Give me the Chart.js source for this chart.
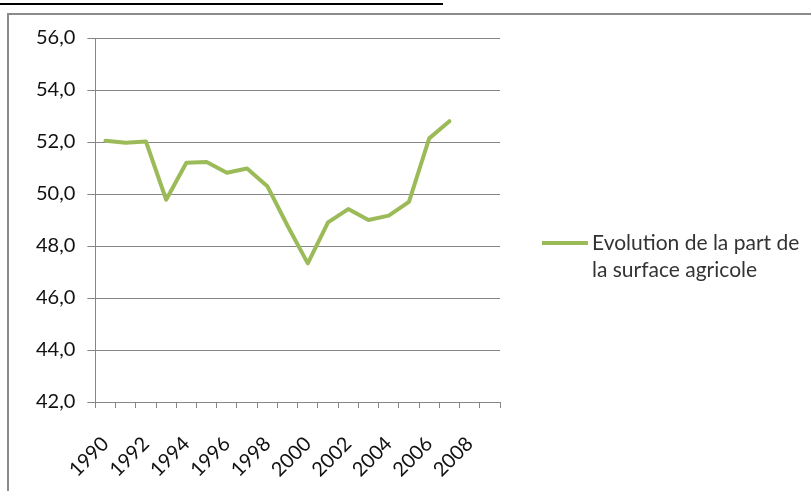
<!DOCTYPE html>
<html>
<head>
<meta charset="utf-8">
<script src="https://cdn.jsdelivr.net/npm/chart.js@4"></script>
<style>
    body { margin: 0; background: #fff; overflow: hidden; }
    #wrap { position: relative; width: 811px; height: 491px; }
    #topline { position: absolute; left: 0; top: 3px; width: 443px; height: 2px; background: #000; }
    #frame { position: absolute; left: 7px; top: 13px; width: 820px; height: 500px; border: 2px solid #8a8a8a; box-sizing: border-box; }
    canvas { position: absolute; left: 0; top: 0; }
</style>
</head>
<body>
<div id="wrap">
    <div id="topline"></div>
    <div id="frame"></div>
    <canvas id="chart" width="811" height="491"></canvas>
</div>
<script>
'use strict';

// années (axe X)
var years = ["1990", "1991", "1992", "1993", "1994", "1995", "1996", "1997", "1998", "1999",
    "2000", "2001", "2002", "2003", "2004", "2005", "2006", "2007", "2008", "2009"];
// part de la surface agricole (%)
var surfaceAgricole = [52.05, 51.97, 52.02, 49.78, 51.2, 51.23, 50.82, 50.98, 50.3, 48.78,
    47.33, 48.91, 49.42, 49.0, 49.17, 49.7, 52.14, 52.8];
var serieLabel = "Evolution de la part de la surface agricole";
var yMin = 42, yMax = 56, yStep = 2;

var green = "#9BBB59";
var gridColor = "#868686";
var fontFamily = "Lato, 'Open Sans', sans-serif";

// légende à droite, sur deux lignes
var sideLegend = {
    id: 'sideLegend',
    afterDraw: function(chart) {
        var ctx = chart.ctx;
        var ds = chart.data.datasets[0];
        var x0 = 542, y0 = 243;
        ctx.save();
        ctx.strokeStyle = ds.borderColor;
        ctx.lineWidth = 4;
        ctx.beginPath();
        ctx.moveTo(x0, y0);
        ctx.lineTo(x0 + 46, y0);
        ctx.stroke();

        ctx.font = "21px " + fontFamily;
        ctx.fillStyle = "#333";
        ctx.textAlign = 'left';
        ctx.textBaseline = 'middle';
        // découpe le texte en lignes
        var words = ds.label.split(' ');
        var lines = [], cur = '';
        words.forEach(function(w) {
            var test = cur ? cur + ' ' + w : w;
            if (ctx.measureText(test).width > 215 && cur) {
                lines.push(cur);
                cur = w;
            } else {
                cur = test;
            }
        });
        lines.push(cur);
        lines.forEach(function(l, i) {
            ctx.fillText(l, x0 + 50, y0 + i * 27);
        });
        ctx.restore();
    }
};

var ctx = document.getElementById("chart").getContext('2d');
var chart = new Chart(ctx, {
    type: 'line',
    data: {
        labels: years,
        datasets: [{
            label: serieLabel,
            data: surfaceAgricole,
            borderColor: green,
            backgroundColor: green,
            borderWidth: 4,
            pointRadius: 0,
            tension: 0,
            borderJoinStyle: 'round',
            borderCapStyle: 'round',
        }]
    },
    options: {
        responsive: false,
        animation: false,
        layout: {
            padding: { left: 24, top: 38, right: 311, bottom: 0 }
        },
        plugins: {
            legend: { display: false },
            tooltip: { enabled: false },
        },
        scales: {
            x: {
                offset: true,
                afterFit: function(scale) {
                    // les étiquettes inclinées ne poussent pas la zone du graphique
                    scale.paddingLeft = 0;
                    scale.paddingRight = 0;
                    scale.height = 89;
                },
                grid: {
                    offset: true,
                    drawOnChartArea: false,
                    drawTicks: true,
                    tickLength: 6,
                    color: gridColor,
                },
                border: { color: gridColor },
                ticks: {
                    autoSkip: false,
                    minRotation: 45,
                    maxRotation: 45,
                    padding: 24,
                    color: "#111",
                    font: { family: fontFamily, size: 20 },
                    callback: function(value, index) {
                        return index % 2 === 0 ? years[index] : '';
                    }
                }
            },
            y: {
                min: yMin,
                max: yMax,
                grid: {
                    color: gridColor,
                    tickLength: 8,
                },
                border: { color: gridColor },
                ticks: {
                    stepSize: yStep,
                    padding: 12,
                    color: "#111",
                    font: { family: fontFamily, size: 20 },
                    callback: function(value) {
                        return value.toFixed(1).replace('.', ',');
                    }
                }
            }
        }
    },
    plugins: [sideLegend],
});
</script>
</body>
</html>
